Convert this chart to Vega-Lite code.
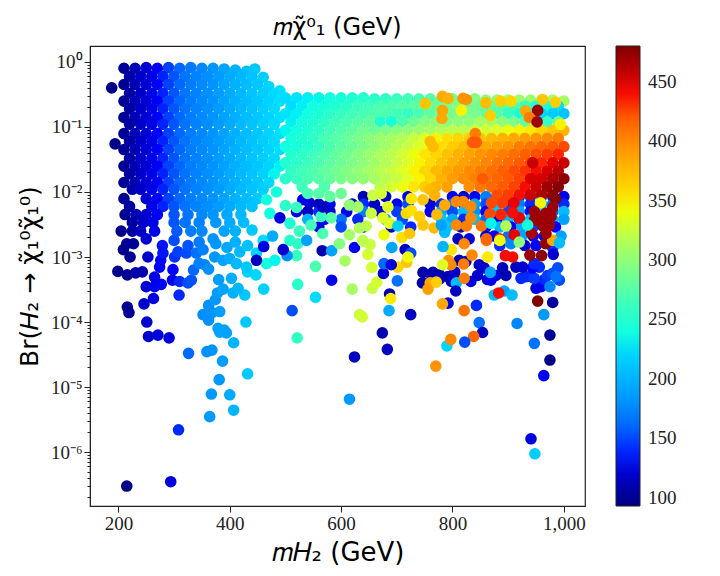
{"$schema":"https://vega.github.io/schema/vega-lite/v6.json","width":495,"height":460,"autosize":"none","padding":{"left":90,"top":46,"right":135,"bottom":70},"background":"white","title":{"text":"𝑚χ̃⁰₁ (GeV)","font":"DejaVu Sans","fontSize":24,"fontWeight":"normal","color":"#000","anchor":"middle","offset":6},"config":{"view":{"stroke":"#222","strokeWidth":1.2}},"data":{"values":[
{"x":640,"y":0.0085,"c":110},{"x":680,"y":0.0085,"c":120},{"x":720,"y":0.0085,"c":130},{"x":800,"y":0.0085,"c":130},{"x":820,"y":0.0085,"c":120},{"x":840,"y":0.0085,"c":130},{"x":860,"y":0.0085,"c":170},{"x":880,"y":0.0085,"c":150},{"x":900,"y":0.0085,"c":180},{"x":920,"y":0.0085,"c":140},{"x":940,"y":0.0085,"c":150},{"x":960,"y":0.0085,"c":170},{"x":980,"y":0.0085,"c":140},{"x":1000,"y":0.0085,"c":130},
{"x":560,"y":0.0065,"c":115},{"x":580,"y":0.0065,"c":135},{"x":620,"y":0.0065,"c":120},{"x":640,"y":0.0065,"c":140},{"x":660,"y":0.0065,"c":115},{"x":700,"y":0.0065,"c":130},{"x":720,"y":0.0065,"c":150},{"x":760,"y":0.0065,"c":120},{"x":780,"y":0.0065,"c":140},{"x":800,"y":0.0065,"c":170},{"x":820,"y":0.0065,"c":130},{"x":840,"y":0.0065,"c":190},{"x":860,"y":0.0065,"c":150},{"x":880,"y":0.0065,"c":200},{"x":900,"y":0.0065,"c":130},{"x":920,"y":0.0065,"c":170},{"x":940,"y":0.0065,"c":140},{"x":960,"y":0.0065,"c":195},{"x":980,"y":0.0065,"c":160},{"x":1000,"y":0.0065,"c":140},
{"x":520,"y":0.005,"c":125},{"x":540,"y":0.005,"c":115},{"x":560,"y":0.005,"c":140},{"x":580,"y":0.005,"c":120},{"x":610,"y":0.005,"c":130},{"x":640,"y":0.005,"c":170},{"x":670,"y":0.005,"c":120},{"x":700,"y":0.005,"c":145},{"x":760,"y":0.005,"c":130},{"x":780,"y":0.005,"c":195},{"x":800,"y":0.005,"c":150},{"x":820,"y":0.005,"c":205},{"x":840,"y":0.005,"c":180},{"x":860,"y":0.005,"c":135},{"x":880,"y":0.005,"c":210},{"x":900,"y":0.005,"c":150},{"x":920,"y":0.005,"c":190},{"x":940,"y":0.005,"c":135},{"x":960,"y":0.005,"c":200},{"x":980,"y":0.005,"c":155},{"x":1000,"y":0.005,"c":205},
{"x":540,"y":0.0038,"c":200},{"x":570,"y":0.0038,"c":135},{"x":600,"y":0.0038,"c":165},{"x":630,"y":0.0038,"c":140},{"x":680,"y":0.0038,"c":190},{"x":710,"y":0.0038,"c":150},{"x":780,"y":0.0038,"c":210},{"x":800,"y":0.0038,"c":195},{"x":820,"y":0.0038,"c":140},{"x":840,"y":0.0038,"c":205},{"x":860,"y":0.0038,"c":160},{"x":880,"y":0.0038,"c":130},{"x":900,"y":0.0038,"c":200},{"x":920,"y":0.0038,"c":145},{"x":940,"y":0.0038,"c":210},{"x":960,"y":0.0038,"c":135},{"x":980,"y":0.0038,"c":200},{"x":1000,"y":0.0038,"c":190},
{"x":560,"y":0.0029,"c":125},{"x":600,"y":0.0029,"c":150},{"x":640,"y":0.0029,"c":135},{"x":690,"y":0.0029,"c":115},{"x":725,"y":0.0029,"c":140},{"x":790,"y":0.0029,"c":210},{"x":815,"y":0.0029,"c":115},{"x":860,"y":0.0029,"c":135},{"x":885,"y":0.0029,"c":200},{"x":905,"y":0.0029,"c":130},{"x":925,"y":0.0029,"c":195},{"x":945,"y":0.0029,"c":145},{"x":985,"y":0.0029,"c":135},
{"x":860,"y":0.0021,"c":120},{"x":875,"y":0.0021,"c":135},{"x":900,"y":0.0021,"c":165},{"x":925,"y":0.0021,"c":190},{"x":945,"y":0.0021,"c":135},{"x":965,"y":0.0021,"c":125},{"x":995,"y":0.0021,"c":190},{"x":810,"y":0.0019,"c":115},{"x":830,"y":0.0019,"c":125},{"x":885,"y":0.0015,"c":140},{"x":905,"y":0.0016,"c":175},{"x":930,"y":0.0015,"c":120},{"x":950,"y":0.0015,"c":135},{"x":980,"y":0.0014,"c":140},

{"x":210,"y":0.8,"c":100},{"x":230,"y":0.8,"c":112},{"x":250,"y":0.82,"c":122},{"x":270,"y":0.8,"c":133},{"x":290,"y":0.82,"c":146},{"x":310,"y":0.8,"c":160},{"x":330,"y":0.82,"c":168},{"x":350,"y":0.8,"c":176},{"x":370,"y":0.8,"c":182},{"x":390,"y":0.78,"c":190},{"x":410,"y":0.75,"c":198},{"x":430,"y":0.72,"c":205},{"x":445,"y":0.78,"c":212},
{"x":220,"y":0.6,"c":105},{"x":240,"y":0.6,"c":118},{"x":260,"y":0.6,"c":128},{"x":280,"y":0.6,"c":139},{"x":300,"y":0.6,"c":153},{"x":320,"y":0.6,"c":166},{"x":340,"y":0.6,"c":173},{"x":360,"y":0.6,"c":179},{"x":380,"y":0.6,"c":186},{"x":400,"y":0.6,"c":194},{"x":420,"y":0.6,"c":202},{"x":440,"y":0.6,"c":209},{"x":460,"y":0.58,"c":216},
{"x":210,"y":0.45,"c":100},{"x":230,"y":0.45,"c":112},{"x":250,"y":0.45,"c":122},{"x":270,"y":0.45,"c":133},{"x":290,"y":0.45,"c":146},{"x":310,"y":0.45,"c":160},{"x":330,"y":0.45,"c":170},{"x":350,"y":0.45,"c":176},{"x":370,"y":0.45,"c":182},{"x":390,"y":0.45,"c":190},{"x":410,"y":0.45,"c":198},{"x":430,"y":0.45,"c":205},{"x":450,"y":0.45,"c":212},{"x":470,"y":0.42,"c":220},{"x":490,"y":0.36,"c":226},
{"x":220,"y":0.33,"c":105},{"x":240,"y":0.33,"c":118},{"x":260,"y":0.33,"c":128},{"x":280,"y":0.33,"c":139},{"x":300,"y":0.33,"c":153},{"x":320,"y":0.33,"c":166},{"x":340,"y":0.33,"c":173},{"x":360,"y":0.33,"c":179},{"x":380,"y":0.33,"c":186},{"x":400,"y":0.33,"c":194},{"x":420,"y":0.33,"c":202},{"x":440,"y":0.33,"c":209},{"x":460,"y":0.33,"c":216},{"x":480,"y":0.32,"c":224},
{"x":210,"y":0.25,"c":100},{"x":230,"y":0.25,"c":112},{"x":250,"y":0.25,"c":122},{"x":270,"y":0.25,"c":133},{"x":290,"y":0.25,"c":146},{"x":310,"y":0.25,"c":160},{"x":330,"y":0.25,"c":170},{"x":350,"y":0.25,"c":176},{"x":370,"y":0.25,"c":182},{"x":390,"y":0.25,"c":190},{"x":410,"y":0.25,"c":198},{"x":430,"y":0.25,"c":205},{"x":450,"y":0.25,"c":212},{"x":470,"y":0.25,"c":220},{"x":490,"y":0.25,"c":226},
{"x":220,"y":0.19,"c":105},{"x":240,"y":0.19,"c":118},{"x":260,"y":0.19,"c":128},{"x":280,"y":0.19,"c":139},{"x":300,"y":0.19,"c":153},{"x":320,"y":0.19,"c":166},{"x":340,"y":0.19,"c":173},{"x":360,"y":0.19,"c":179},{"x":380,"y":0.19,"c":186},{"x":400,"y":0.19,"c":194},{"x":420,"y":0.19,"c":202},{"x":440,"y":0.19,"c":209},{"x":460,"y":0.19,"c":216},{"x":480,"y":0.19,"c":224},
{"x":210,"y":0.14,"c":100},{"x":230,"y":0.14,"c":112},{"x":250,"y":0.14,"c":122},{"x":270,"y":0.14,"c":133},{"x":290,"y":0.14,"c":146},{"x":310,"y":0.14,"c":160},{"x":330,"y":0.14,"c":170},{"x":350,"y":0.14,"c":176},{"x":370,"y":0.14,"c":182},{"x":390,"y":0.14,"c":190},{"x":410,"y":0.14,"c":198},{"x":430,"y":0.14,"c":205},{"x":450,"y":0.14,"c":212},{"x":470,"y":0.14,"c":220},{"x":490,"y":0.14,"c":226},
{"x":220,"y":0.11,"c":105},{"x":240,"y":0.11,"c":118},{"x":260,"y":0.11,"c":128},{"x":280,"y":0.11,"c":139},{"x":300,"y":0.11,"c":153},{"x":320,"y":0.11,"c":166},{"x":340,"y":0.11,"c":173},{"x":360,"y":0.11,"c":179},{"x":380,"y":0.11,"c":186},{"x":400,"y":0.11,"c":194},{"x":420,"y":0.11,"c":202},{"x":440,"y":0.11,"c":209},{"x":460,"y":0.11,"c":216},{"x":480,"y":0.11,"c":224},
{"x":210,"y":0.079,"c":100},{"x":230,"y":0.079,"c":112},{"x":250,"y":0.079,"c":122},{"x":270,"y":0.079,"c":133},{"x":290,"y":0.079,"c":146},{"x":310,"y":0.079,"c":160},{"x":330,"y":0.079,"c":170},{"x":350,"y":0.079,"c":176},{"x":370,"y":0.079,"c":182},{"x":390,"y":0.079,"c":190},{"x":410,"y":0.079,"c":198},{"x":430,"y":0.079,"c":205},{"x":450,"y":0.079,"c":212},{"x":470,"y":0.079,"c":220},{"x":490,"y":0.079,"c":226},
{"x":220,"y":0.06,"c":105},{"x":240,"y":0.06,"c":118},{"x":260,"y":0.06,"c":128},{"x":280,"y":0.06,"c":139},{"x":300,"y":0.06,"c":153},{"x":320,"y":0.06,"c":166},{"x":340,"y":0.06,"c":173},{"x":360,"y":0.06,"c":179},{"x":380,"y":0.06,"c":186},{"x":400,"y":0.06,"c":194},{"x":420,"y":0.06,"c":202},{"x":440,"y":0.06,"c":209},{"x":460,"y":0.06,"c":216},{"x":480,"y":0.06,"c":224},
{"x":210,"y":0.045,"c":100},{"x":230,"y":0.045,"c":112},{"x":250,"y":0.045,"c":122},{"x":270,"y":0.045,"c":133},{"x":290,"y":0.045,"c":146},{"x":310,"y":0.045,"c":160},{"x":330,"y":0.045,"c":170},{"x":350,"y":0.045,"c":176},{"x":370,"y":0.045,"c":182},{"x":390,"y":0.045,"c":190},{"x":410,"y":0.045,"c":198},{"x":430,"y":0.045,"c":205},{"x":450,"y":0.045,"c":212},{"x":470,"y":0.045,"c":220},{"x":490,"y":0.045,"c":226},
{"x":220,"y":0.033,"c":105},{"x":240,"y":0.033,"c":118},{"x":260,"y":0.033,"c":128},{"x":280,"y":0.033,"c":139},{"x":300,"y":0.033,"c":153},{"x":320,"y":0.033,"c":166},{"x":340,"y":0.033,"c":173},{"x":360,"y":0.033,"c":179},{"x":380,"y":0.033,"c":186},{"x":400,"y":0.033,"c":194},{"x":420,"y":0.033,"c":202},{"x":440,"y":0.033,"c":209},{"x":460,"y":0.033,"c":216},{"x":480,"y":0.033,"c":224},
{"x":210,"y":0.025,"c":100},{"x":230,"y":0.025,"c":112},{"x":250,"y":0.025,"c":122},{"x":270,"y":0.025,"c":133},{"x":290,"y":0.025,"c":146},{"x":310,"y":0.025,"c":160},{"x":330,"y":0.025,"c":170},{"x":350,"y":0.025,"c":176},{"x":370,"y":0.025,"c":182},{"x":390,"y":0.025,"c":190},{"x":410,"y":0.025,"c":198},{"x":430,"y":0.025,"c":205},{"x":450,"y":0.025,"c":212},{"x":470,"y":0.025,"c":220},{"x":490,"y":0.025,"c":232},
{"x":220,"y":0.019,"c":105},{"x":240,"y":0.019,"c":118},{"x":260,"y":0.019,"c":128},{"x":280,"y":0.019,"c":139},{"x":300,"y":0.019,"c":153},{"x":320,"y":0.019,"c":166},{"x":340,"y":0.019,"c":173},{"x":360,"y":0.019,"c":179},{"x":380,"y":0.019,"c":186},{"x":400,"y":0.019,"c":194},{"x":420,"y":0.019,"c":202},{"x":440,"y":0.019,"c":209},{"x":460,"y":0.019,"c":218},{"x":480,"y":0.019,"c":235},
{"x":210,"y":0.014,"c":100},{"x":230,"y":0.014,"c":112},{"x":250,"y":0.014,"c":122},{"x":270,"y":0.014,"c":133},{"x":290,"y":0.014,"c":146},{"x":310,"y":0.014,"c":160},{"x":330,"y":0.014,"c":170},{"x":350,"y":0.014,"c":176},{"x":370,"y":0.014,"c":182},{"x":390,"y":0.014,"c":190},{"x":410,"y":0.014,"c":198},{"x":430,"y":0.014,"c":205},{"x":450,"y":0.014,"c":212},{"x":470,"y":0.014,"c":222},
{"x":225,"y":0.011,"c":107},{"x":240,"y":0.011,"c":118},{"x":260,"y":0.011,"c":128},{"x":280,"y":0.011,"c":139},{"x":300,"y":0.011,"c":153},{"x":320,"y":0.011,"c":166},{"x":340,"y":0.011,"c":173},{"x":360,"y":0.011,"c":179},{"x":380,"y":0.011,"c":186},{"x":400,"y":0.011,"c":194},{"x":420,"y":0.011,"c":202},{"x":440,"y":0.011,"c":209},{"x":460,"y":0.011,"c":216},
{"x":210,"y":0.0079,"c":100},{"x":250,"y":0.0079,"c":122},{"x":270,"y":0.0079,"c":133},{"x":290,"y":0.0079,"c":146},{"x":310,"y":0.0079,"c":160},{"x":330,"y":0.0079,"c":170},{"x":350,"y":0.0079,"c":176},{"x":370,"y":0.0079,"c":182},{"x":390,"y":0.0079,"c":190},{"x":410,"y":0.0079,"c":198},{"x":430,"y":0.0079,"c":205},{"x":450,"y":0.0079,"c":212},
{"x":220,"y":0.006,"c":105},{"x":260,"y":0.006,"c":128},{"x":280,"y":0.006,"c":139},{"x":300,"y":0.006,"c":153},{"x":320,"y":0.006,"c":166},{"x":340,"y":0.006,"c":173},{"x":360,"y":0.006,"c":179},{"x":380,"y":0.006,"c":186},{"x":400,"y":0.006,"c":194},{"x":420,"y":0.006,"c":202},{"x":440,"y":0.006,"c":209},
{"x":212,"y":0.0045,"c":100},{"x":232,"y":0.0045,"c":112},{"x":250,"y":0.0045,"c":122},{"x":270,"y":0.0045,"c":133},{"x":300,"y":0.0045,"c":153},{"x":325,"y":0.0045,"c":166},{"x":350,"y":0.0045,"c":176},{"x":370,"y":0.0045,"c":182},{"x":395,"y":0.0045,"c":192},{"x":420,"y":0.0045,"c":202},
{"x":225,"y":0.0034,"c":105},{"x":245,"y":0.0034,"c":118},{"x":262,"y":0.0034,"c":128},{"x":300,"y":0.0034,"c":153},{"x":320,"y":0.0034,"c":166},{"x":345,"y":0.0034,"c":173},{"x":375,"y":0.0034,"c":184},{"x":400,"y":0.0034,"c":194},{"x":425,"y":0.0034,"c":204},
{"x":205,"y":0.0025,"c":97},{"x":225,"y":0.0025,"c":105},{"x":240,"y":0.0025,"c":116},{"x":265,"y":0.0025,"c":130},{"x":305,"y":0.0025,"c":155},{"x":330,"y":0.0025,"c":170},{"x":350,"y":0.0025,"c":176},{"x":390,"y":0.0025,"c":190},{"x":410,"y":0.0025,"c":198},{"x":440,"y":0.0026,"c":212},
{"x":500,"y":0.28,"c":225},{"x":520,"y":0.28,"c":228},{"x":540,"y":0.28,"c":232},{"x":560,"y":0.28,"c":235},{"x":580,"y":0.28,"c":240},{"x":600,"y":0.28,"c":245},{"x":620,"y":0.28,"c":250},{"x":640,"y":0.28,"c":252},{"x":660,"y":0.27,"c":255},{"x":680,"y":0.27,"c":258},{"x":700,"y":0.27,"c":262},{"x":720,"y":0.27,"c":265},{"x":740,"y":0.27,"c":270},{"x":760,"y":0.27,"c":275},{"x":780,"y":0.27,"c":280},{"x":800,"y":0.27,"c":285},{"x":820,"y":0.27,"c":290},{"x":840,"y":0.27,"c":295},{"x":860,"y":0.26,"c":300},{"x":880,"y":0.26,"c":300},{"x":900,"y":0.26,"c":305},{"x":920,"y":0.26,"c":305},{"x":940,"y":0.26,"c":305},{"x":960,"y":0.26,"c":310},{"x":980,"y":0.26,"c":310},{"x":1000,"y":0.25,"c":310},
{"x":510,"y":0.21,"c":225},{"x":530,"y":0.21,"c":232},{"x":550,"y":0.21,"c":238},{"x":570,"y":0.21,"c":245},{"x":590,"y":0.21,"c":250},{"x":610,"y":0.21,"c":255},{"x":630,"y":0.21,"c":262},{"x":650,"y":0.21,"c":265},{"x":670,"y":0.21,"c":270},{"x":690,"y":0.21,"c":272},{"x":710,"y":0.21,"c":275},{"x":730,"y":0.21,"c":278},{"x":750,"y":0.21,"c":282},{"x":770,"y":0.21,"c":285},{"x":790,"y":0.21,"c":290},{"x":810,"y":0.21,"c":295},{"x":830,"y":0.21,"c":290},{"x":850,"y":0.21,"c":285},{"x":870,"y":0.21,"c":280},{"x":890,"y":0.21,"c":275},{"x":910,"y":0.21,"c":270},{"x":930,"y":0.21,"c":260},{"x":950,"y":0.21,"c":250},{"x":970,"y":0.21,"c":240},{"x":990,"y":0.21,"c":225},
{"x":500,"y":0.16,"c":228},{"x":520,"y":0.16,"c":232},{"x":540,"y":0.16,"c":240},{"x":560,"y":0.16,"c":248},{"x":580,"y":0.16,"c":255},{"x":600,"y":0.16,"c":260},{"x":620,"y":0.16,"c":265},{"x":640,"y":0.16,"c":268},{"x":660,"y":0.16,"c":272},{"x":680,"y":0.16,"c":270},{"x":700,"y":0.16,"c":265},{"x":720,"y":0.16,"c":260},{"x":740,"y":0.16,"c":270},{"x":760,"y":0.16,"c":280},{"x":780,"y":0.16,"c":285},{"x":800,"y":0.16,"c":290},{"x":820,"y":0.16,"c":290},{"x":840,"y":0.16,"c":290},{"x":860,"y":0.16,"c":280},{"x":880,"y":0.16,"c":275},{"x":900,"y":0.16,"c":260},{"x":920,"y":0.16,"c":245},{"x":940,"y":0.16,"c":230},{"x":960,"y":0.16,"c":220},{"x":980,"y":0.16,"c":215},{"x":1000,"y":0.16,"c":210},
{"x":510,"y":0.12,"c":232},{"x":530,"y":0.12,"c":240},{"x":550,"y":0.12,"c":250},{"x":570,"y":0.12,"c":258},{"x":590,"y":0.12,"c":265},{"x":610,"y":0.12,"c":270},{"x":630,"y":0.12,"c":275},{"x":650,"y":0.12,"c":280},{"x":670,"y":0.12,"c":250},{"x":690,"y":0.12,"c":245},{"x":710,"y":0.12,"c":270},{"x":730,"y":0.12,"c":285},{"x":750,"y":0.12,"c":295},{"x":770,"y":0.12,"c":300},{"x":790,"y":0.12,"c":295},{"x":810,"y":0.12,"c":300},{"x":830,"y":0.12,"c":300},{"x":850,"y":0.12,"c":310},{"x":870,"y":0.12,"c":310},{"x":890,"y":0.12,"c":300},{"x":910,"y":0.12,"c":290},{"x":930,"y":0.12,"c":280},{"x":950,"y":0.12,"c":270},{"x":970,"y":0.12,"c":260},{"x":990,"y":0.12,"c":280},
{"x":500,"y":0.089,"c":235},{"x":520,"y":0.089,"c":240},{"x":540,"y":0.089,"c":250},{"x":560,"y":0.089,"c":258},{"x":580,"y":0.089,"c":266},{"x":600,"y":0.089,"c":272},{"x":620,"y":0.089,"c":280},{"x":640,"y":0.089,"c":288},{"x":660,"y":0.089,"c":285},{"x":680,"y":0.089,"c":290},{"x":700,"y":0.089,"c":295},{"x":720,"y":0.089,"c":300},{"x":740,"y":0.089,"c":305},{"x":760,"y":0.089,"c":310},{"x":780,"y":0.089,"c":315},{"x":800,"y":0.089,"c":320},{"x":820,"y":0.089,"c":320},{"x":840,"y":0.089,"c":325},{"x":860,"y":0.089,"c":330},{"x":880,"y":0.089,"c":335},{"x":900,"y":0.089,"c":340},{"x":920,"y":0.089,"c":345},{"x":940,"y":0.089,"c":350},{"x":960,"y":0.089,"c":360},{"x":980,"y":0.089,"c":370},{"x":1000,"y":0.089,"c":380},
{"x":510,"y":0.067,"c":240},{"x":530,"y":0.067,"c":250},{"x":550,"y":0.067,"c":258},{"x":570,"y":0.067,"c":268},{"x":590,"y":0.067,"c":275},{"x":610,"y":0.067,"c":282},{"x":630,"y":0.067,"c":290},{"x":650,"y":0.067,"c":298},{"x":670,"y":0.067,"c":305},{"x":690,"y":0.067,"c":310},{"x":710,"y":0.067,"c":315},{"x":730,"y":0.067,"c":325},{"x":750,"y":0.067,"c":335},{"x":770,"y":0.067,"c":345},{"x":790,"y":0.067,"c":355},{"x":810,"y":0.067,"c":360},{"x":830,"y":0.067,"c":365},{"x":850,"y":0.067,"c":370},{"x":870,"y":0.067,"c":375},{"x":890,"y":0.067,"c":380},{"x":910,"y":0.067,"c":385},{"x":930,"y":0.067,"c":390},{"x":950,"y":0.067,"c":395},{"x":970,"y":0.067,"c":400},{"x":990,"y":0.067,"c":405},
{"x":500,"y":0.05,"c":240},{"x":520,"y":0.05,"c":245},{"x":540,"y":0.05,"c":252},{"x":560,"y":0.05,"c":260},{"x":580,"y":0.05,"c":270},{"x":600,"y":0.05,"c":278},{"x":620,"y":0.05,"c":285},{"x":640,"y":0.05,"c":292},{"x":660,"y":0.05,"c":300},{"x":680,"y":0.05,"c":308},{"x":700,"y":0.05,"c":316},{"x":720,"y":0.05,"c":325},{"x":740,"y":0.05,"c":335},{"x":760,"y":0.05,"c":345},{"x":780,"y":0.05,"c":355},{"x":800,"y":0.05,"c":365},{"x":820,"y":0.05,"c":375},{"x":840,"y":0.05,"c":380},{"x":860,"y":0.05,"c":385},{"x":880,"y":0.05,"c":390},{"x":900,"y":0.05,"c":395},{"x":920,"y":0.05,"c":405},{"x":940,"y":0.05,"c":410},{"x":960,"y":0.05,"c":415},{"x":980,"y":0.05,"c":420},{"x":1000,"y":0.05,"c":425},
{"x":510,"y":0.038,"c":250},{"x":530,"y":0.038,"c":256},{"x":550,"y":0.038,"c":264},{"x":570,"y":0.038,"c":272},{"x":590,"y":0.038,"c":280},{"x":610,"y":0.038,"c":288},{"x":630,"y":0.038,"c":296},{"x":650,"y":0.038,"c":305},{"x":670,"y":0.038,"c":312},{"x":690,"y":0.038,"c":320},{"x":710,"y":0.038,"c":330},{"x":730,"y":0.038,"c":340},{"x":750,"y":0.038,"c":352},{"x":770,"y":0.038,"c":362},{"x":790,"y":0.038,"c":372},{"x":810,"y":0.038,"c":380},{"x":830,"y":0.038,"c":388},{"x":850,"y":0.038,"c":395},{"x":870,"y":0.038,"c":400},{"x":890,"y":0.038,"c":405},{"x":910,"y":0.038,"c":412},{"x":930,"y":0.038,"c":418},{"x":950,"y":0.038,"c":424},{"x":970,"y":0.038,"c":430},{"x":990,"y":0.038,"c":435},
{"x":500,"y":0.028,"c":250},{"x":520,"y":0.028,"c":256},{"x":540,"y":0.028,"c":262},{"x":560,"y":0.028,"c":270},{"x":580,"y":0.028,"c":278},{"x":600,"y":0.028,"c":285},{"x":620,"y":0.028,"c":292},{"x":640,"y":0.028,"c":300},{"x":660,"y":0.028,"c":308},{"x":680,"y":0.028,"c":316},{"x":700,"y":0.028,"c":325},{"x":720,"y":0.028,"c":335},{"x":740,"y":0.028,"c":345},{"x":760,"y":0.028,"c":358},{"x":780,"y":0.028,"c":370},{"x":800,"y":0.028,"c":380},{"x":820,"y":0.028,"c":388},{"x":840,"y":0.028,"c":395},{"x":860,"y":0.028,"c":402},{"x":880,"y":0.028,"c":408},{"x":900,"y":0.028,"c":414},{"x":920,"y":0.028,"c":420},{"x":940,"y":0.028,"c":428},{"x":960,"y":0.028,"c":435},{"x":980,"y":0.028,"c":445},{"x":1000,"y":0.028,"c":455},
{"x":510,"y":0.021,"c":258},{"x":530,"y":0.021,"c":265},{"x":550,"y":0.021,"c":272},{"x":570,"y":0.021,"c":280},{"x":590,"y":0.021,"c":288},{"x":610,"y":0.021,"c":295},{"x":630,"y":0.021,"c":302},{"x":650,"y":0.021,"c":310},{"x":670,"y":0.021,"c":318},{"x":690,"y":0.021,"c":326},{"x":710,"y":0.021,"c":335},{"x":730,"y":0.021,"c":345},{"x":750,"y":0.021,"c":360},{"x":770,"y":0.021,"c":375},{"x":790,"y":0.021,"c":385},{"x":810,"y":0.021,"c":392},{"x":830,"y":0.021,"c":400},{"x":850,"y":0.021,"c":406},{"x":870,"y":0.021,"c":412},{"x":890,"y":0.021,"c":418},{"x":910,"y":0.021,"c":425},{"x":930,"y":0.021,"c":432},{"x":950,"y":0.021,"c":440},{"x":970,"y":0.021,"c":450},{"x":990,"y":0.021,"c":460},
{"x":500,"y":0.016,"c":255},{"x":520,"y":0.016,"c":262},{"x":540,"y":0.016,"c":268},{"x":560,"y":0.016,"c":275},{"x":580,"y":0.016,"c":282},{"x":600,"y":0.016,"c":290},{"x":620,"y":0.016,"c":296},{"x":640,"y":0.016,"c":302},{"x":660,"y":0.016,"c":310},{"x":680,"y":0.016,"c":318},{"x":700,"y":0.016,"c":325},{"x":720,"y":0.016,"c":335},{"x":740,"y":0.016,"c":345},{"x":760,"y":0.016,"c":360},{"x":780,"y":0.016,"c":380},{"x":800,"y":0.016,"c":390},{"x":820,"y":0.016,"c":398},{"x":840,"y":0.016,"c":404},{"x":860,"y":0.016,"c":410},{"x":880,"y":0.016,"c":416},{"x":900,"y":0.016,"c":420},{"x":920,"y":0.016,"c":428},{"x":940,"y":0.016,"c":440},{"x":960,"y":0.016,"c":452},{"x":980,"y":0.016,"c":465},{"x":1000,"y":0.016,"c":475},
{"x":530,"y":0.012,"c":265},{"x":570,"y":0.012,"c":272},{"x":670,"y":0.012,"c":320},{"x":690,"y":0.012,"c":330},{"x":710,"y":0.012,"c":340},{"x":730,"y":0.012,"c":352},{"x":750,"y":0.012,"c":365},{"x":770,"y":0.012,"c":380},{"x":790,"y":0.012,"c":388},{"x":830,"y":0.012,"c":398},{"x":850,"y":0.012,"c":408},{"x":870,"y":0.012,"c":414},{"x":890,"y":0.012,"c":420},{"x":910,"y":0.012,"c":428},{"x":930,"y":0.012,"c":440},{"x":950,"y":0.012,"c":455},{"x":970,"y":0.012,"c":470},{"x":990,"y":0.012,"c":478},
{"x":880,"y":0.009,"c":425},{"x":900,"y":0.009,"c":430},{"x":920,"y":0.009,"c":440},{"x":940,"y":0.009,"c":455},{"x":960,"y":0.009,"c":465},{"x":980,"y":0.009,"c":475},{"x":870,"y":0.0068,"c":425},{"x":890,"y":0.0068,"c":430},{"x":910,"y":0.0068,"c":445},

{"x":188,"y":0.4,"c":95},{"x":194,"y":0.055,"c":96},
{"x":215,"y":3e-7,"c":95},{"x":294,"y":3.5e-7,"c":125},{"x":308,"y":2.2e-6,"c":140},{"x":364,"y":3.5e-6,"c":185},{"x":407,"y":4.4e-6,"c":200},{"x":367,"y":7.8e-6,"c":185},{"x":400,"y":7.6e-6,"c":195},{"x":381,"y":1.3e-5,"c":185},{"x":432,"y":1.6e-5,"c":212},{"x":387,"y":2.5e-5,"c":187},{"x":326,"y":3.3e-5,"c":160},{"x":359,"y":3.5e-5,"c":180},{"x":368,"y":3.7e-5,"c":182},{"x":407,"y":4.8e-5,"c":200},{"x":291,"y":5.7e-5,"c":125},{"x":271,"y":6.3e-5,"c":125},{"x":254,"y":6e-5,"c":120},{"x":251,"y":1e-4,"c":120},{"x":219,"y":1.4e-4,"c":100},{"x":216,"y":1.7e-4,"c":100},{"x":246,"y":1.9e-4,"c":120},{"x":263,"y":2.3e-4,"c":125},{"x":309,"y":2.6e-4,"c":140},
{"x":352,"y":1.3e-4,"c":178},{"x":362,"y":1.07e-4,"c":180},{"x":368,"y":1.4e-4,"c":182},{"x":382,"y":1.45e-4,"c":187},{"x":362,"y":1.8e-4,"c":180},{"x":374,"y":2.2e-4,"c":184},{"x":378,"y":2.8e-4,"c":186},{"x":379,"y":8e-5,"c":190},{"x":382,"y":7e-5,"c":190},{"x":390,"y":7.5e-5,"c":190},{"x":394,"y":6.8e-5,"c":190},{"x":429,"y":1e-4,"c":212},{"x":427,"y":2.6e-4,"c":212},{"x":461,"y":3.2e-4,"c":218},{"x":406,"y":2.8e-4,"c":198},{"x":415,"y":3.3e-4,"c":202},{"x":388,"y":3.2e-4,"c":190},{"x":403,"y":4.7e-4,"c":196},{"x":380,"y":4.5e-4,"c":186},
{"x":512,"y":1.5e-4,"c":150},{"x":521,"y":5.7e-5,"c":260},{"x":554,"y":2.4e-4,"c":225},{"x":522,"y":3.8e-4,"c":255},{"x":583,"y":4.4e-4,"c":130},{"x":554,"y":7.2e-4,"c":270},{"x":520,"y":1.05e-3,"c":262},{"x":566,"y":1.25e-3,"c":110},{"x":583,"y":1.25e-3,"c":190},{"x":503,"y":1.05e-3,"c":180},{"x":447,"y":5.3e-4,"c":222},{"x":432,"y":5.9e-4,"c":218},
{"x":297,"y":4.4e-4,"c":130},{"x":310,"y":4.2e-4,"c":140},{"x":325,"y":4e-4,"c":150},{"x":331,"y":4.4e-4,"c":152},{"x":250,"y":3.5e-4,"c":122},{"x":265,"y":3.5e-4,"c":130},{"x":277,"y":3.8e-4,"c":135},{"x":265,"y":4.9e-4,"c":128},{"x":199,"y":6e-4,"c":97},{"x":216,"y":5.3e-4,"c":100},{"x":231,"y":5.7e-4,"c":108},{"x":243,"y":5.9e-4,"c":110},{"x":298,"y":6.4e-4,"c":135},{"x":335,"y":6.3e-4,"c":160},{"x":274,"y":7e-4,"c":135},{"x":276,"y":8.9e-4,"c":135},{"x":280,"y":1.15e-3,"c":137},{"x":279,"y":1.5e-3,"c":137},{"x":253,"y":1e-3,"c":120},{"x":221,"y":1e-3,"c":100},{"x":209,"y":1.3e-3,"c":97},{"x":215,"y":1.6e-3,"c":100},{"x":227,"y":1.6e-3,"c":102},
{"x":301,"y":1e-3,"c":142},{"x":307,"y":1.2e-3,"c":145},{"x":322,"y":1.15e-3,"c":150},{"x":340,"y":1.15e-3,"c":165},{"x":352,"y":1.3e-3,"c":172},{"x":355,"y":7.6e-4,"c":175},{"x":373,"y":1e-3,"c":183},{"x":388,"y":8.9e-4,"c":190},{"x":400,"y":9.5e-4,"c":195},{"x":412,"y":7.9e-4,"c":203},{"x":430,"y":7e-4,"c":212},{"x":448,"y":1.15e-3,"c":220},{"x":362,"y":6.5e-4,"c":180},{"x":345,"y":8e-4,"c":172},{"x":325,"y":1.5e-3,"c":152},{"x":345,"y":1.7e-3,"c":170},{"x":375,"y":1.6e-3,"c":184},{"x":395,"y":1.4e-3,"c":192},{"x":418,"y":1.2e-3,"c":202},{"x":300,"y":1.8e-3,"c":150},{"x":250,"y":1.9e-3,"c":120},{"x":370,"y":1.9e-3,"c":182},{"x":410,"y":1.7e-3,"c":198},{"x":432,"y":1.5e-3,"c":208},
{"x":615,"y":6.5e-6,"c":185},{"x":941,"y":1.6e-6,"c":125},{"x":948,"y":9.4e-7,"c":215},{"x":770,"y":2.1e-5,"c":395},{"x":624,"y":2.9e-5,"c":115},{"x":683,"y":3.8e-5,"c":115},{"x":674,"y":6.8e-5,"c":110},{"x":725,"y":1.3e-4,"c":115},{"x":686,"y":1.5e-4,"c":195},{"x":633,"y":1.3e-4,"c":325},{"x":638,"y":1.2e-4,"c":330},{"x":620,"y":3.2e-4,"c":310},{"x":656,"y":3.3e-4,"c":325},{"x":664,"y":4.1e-4,"c":330},{"x":687,"y":2.7e-4,"c":110},{"x":689,"y":2.3e-4,"c":350},{"x":701,"y":4.3e-4,"c":165},{"x":676,"y":5.6e-4,"c":120},{"x":702,"y":7e-4,"c":360},{"x":718,"y":8.3e-4,"c":370},{"x":677,"y":7.9e-4,"c":160},{"x":690,"y":7.6e-4,"c":125},{"x":655,"y":6.9e-4,"c":330},{"x":607,"y":8.7e-4,"c":310},{"x":624,"y":1.4e-3,"c":135},{"x":648,"y":1.1e-3,"c":330},{"x":691,"y":1.4e-3,"c":190},{"x":715,"y":1.3e-3,"c":115},{"x":725,"y":1.15e-3,"c":150},{"x":720,"y":1e-3,"c":340},{"x":652,"y":1.55e-3,"c":325},{"x":639,"y":1.75e-3,"c":320},
{"x":747,"y":5.8e-4,"c":108},{"x":765,"y":5.8e-4,"c":110},{"x":777,"y":5.3e-4,"c":110},{"x":746,"y":4e-4,"c":105},{"x":762,"y":4.4e-4,"c":110},{"x":777,"y":4.6e-4,"c":115},{"x":792,"y":5e-4,"c":110},{"x":804,"y":5.9e-4,"c":120},{"x":798,"y":4.2e-4,"c":115},{"x":807,"y":4.7e-4,"c":115},{"x":833,"y":4.2e-4,"c":125},{"x":824,"y":8.5e-4,"c":115},{"x":812,"y":8.9e-4,"c":110},{"x":848,"y":7.6e-4,"c":115},{"x":857,"y":6.8e-4,"c":120},{"x":845,"y":5.2e-4,"c":120},{"x":863,"y":4.5e-4,"c":125},{"x":869,"y":4.4e-4,"c":130},{"x":878,"y":5.2e-4,"c":125},{"x":890,"y":6.8e-4,"c":115},{"x":896,"y":5.2e-4,"c":110},
{"x":760,"y":4e-4,"c":385},{"x":756,"y":3.2e-4,"c":390},{"x":771,"y":4.1e-4,"c":365},{"x":807,"y":4e-4,"c":205},{"x":821,"y":4.7e-4,"c":405},{"x":806,"y":3e-4,"c":115},{"x":792,"y":1.95e-4,"c":125},{"x":782,"y":1.9e-4,"c":385},{"x":821,"y":1.5e-4,"c":410},{"x":843,"y":1.8e-4,"c":140},{"x":848,"y":9.8e-5,"c":165},{"x":854,"y":6.9e-5,"c":115},{"x":838,"y":6e-5,"c":415},{"x":822,"y":4.9e-5,"c":150},{"x":790,"y":4.3e-5,"c":220},{"x":797,"y":5.4e-5,"c":400},
{"x":875,"y":2.6e-4,"c":205},{"x":893,"y":3e-4,"c":190},{"x":907,"y":2.6e-4,"c":205},{"x":883,"y":2.8e-4,"c":440},{"x":916,"y":9.5e-5,"c":175},{"x":947,"y":4.7e-5,"c":165},{"x":964,"y":1.3e-4,"c":185},{"x":953,"y":2.1e-4,"c":480},{"x":980,"y":2e-4,"c":105},{"x":975,"y":6.3e-5,"c":100},{"x":975,"y":2.6e-5,"c":95},{"x":964,"y":1.5e-5,"c":135},
{"x":950,"y":3.3e-4,"c":125},{"x":959,"y":3.5e-4,"c":130},{"x":965,"y":4.5e-4,"c":140},{"x":971,"y":5.2e-4,"c":145},{"x":980,"y":5.6e-4,"c":150},{"x":989,"y":6.8e-4,"c":150},{"x":992,"y":4.4e-4,"c":150},{"x":986,"y":5e-4,"c":165},{"x":975,"y":3.5e-4,"c":175},{"x":941,"y":5e-4,"c":140},{"x":923,"y":4.7e-4,"c":140},{"x":932,"y":5e-4,"c":140},{"x":947,"y":4.7e-4,"c":145},{"x":956,"y":7e-4,"c":140},{"x":944,"y":6.8e-4,"c":135},{"x":947,"y":7.9e-4,"c":140},{"x":914,"y":7e-4,"c":115},{"x":926,"y":7e-4,"c":120},{"x":868,"y":5.8e-4,"c":190},
{"x":863,"y":1e-3,"c":350},{"x":895,"y":1.05e-3,"c":440},{"x":908,"y":1e-3,"c":440},{"x":939,"y":1.07e-3,"c":470},{"x":960,"y":1.05e-3,"c":475},{"x":835,"y":1.07e-3,"c":400},{"x":820,"y":7.8e-4,"c":405},{"x":793,"y":8.9e-4,"c":395},{"x":797,"y":7.6e-4,"c":400},{"x":798,"y":1.3e-3,"c":350},{"x":782,"y":7.6e-4,"c":335},{"x":783,"y":1.45e-3,"c":200},{"x":821,"y":1.6e-3,"c":400},{"x":861,"y":1.8e-3,"c":410},{"x":885,"y":1.8e-3,"c":435},{"x":967,"y":1.6e-3,"c":475},{"x":980,"y":1.8e-3,"c":385},{"x":992,"y":1.65e-3,"c":205},{"x":981,"y":1.1e-3,"c":120},
{"x":782,"y":0.295,"c":385},{"x":792,"y":0.275,"c":380},{"x":819,"y":0.275,"c":395},{"x":825,"y":0.265,"c":395},{"x":860,"y":0.235,"c":375},{"x":886,"y":0.25,"c":365},{"x":905,"y":0.25,"c":360},{"x":962,"y":0.265,"c":370},{"x":985,"y":0.24,"c":365},{"x":751,"y":0.23,"c":370},{"x":782,"y":0.18,"c":385},{"x":781,"y":0.135,"c":385},{"x":816,"y":0.18,"c":345},{"x":868,"y":0.15,"c":365},{"x":953,"y":0.18,"c":470},{"x":931,"y":0.178,"c":385},{"x":938,"y":0.14,"c":405},{"x":952,"y":0.12,"c":470},{"x":994,"y":0.11,"c":345},{"x":841,"y":0.079,"c":405},{"x":843,"y":0.058,"c":420},{"x":836,"y":0.058,"c":420},{"x":760,"y":0.06,"c":375},{"x":765,"y":0.05,"c":375},{"x":944,"y":0.028,"c":455},{"x":854,"y":0.016,"c":420},{"x":941,"y":0.016,"c":450},{"x":985,"y":0.0079,"c":478},{"x":958,"y":0.0068,"c":345},
{"x":980,"y":0.0058,"c":470},{"x":947,"y":0.005,"c":470},{"x":956,"y":0.0042,"c":470},{"x":968,"y":0.0047,"c":470},{"x":947,"y":0.0037,"c":470},{"x":965,"y":0.004,"c":470},{"x":977,"y":0.0042,"c":470},{"x":962,"y":0.003,"c":470},{"x":974,"y":0.0031,"c":470},{"x":968,"y":0.0023,"c":470},{"x":942,"y":0.0023,"c":465},
{"x":920,"y":0.004,"c":445},{"x":887,"y":0.0045,"c":435},{"x":867,"y":0.0046,"c":425},{"x":908,"y":0.0048,"c":440},{"x":911,"y":0.0022,"c":445},{"x":885,"y":0.0019,"c":435},{"x":861,"y":0.0019,"c":415},{"x":833,"y":0.006,"c":400},{"x":819,"y":0.0071,"c":400},{"x":807,"y":0.0071,"c":400},{"x":786,"y":0.0063,"c":385},{"x":772,"y":0.0045,"c":375},{"x":767,"y":0.0028,"c":375},{"x":747,"y":0.0031,"c":370},{"x":807,"y":0.0031,"c":400},{"x":825,"y":0.003,"c":405},{"x":833,"y":0.004,"c":400},{"x":852,"y":0.003,"c":410},
{"x":717,"y":0.0047,"c":360},{"x":726,"y":0.0052,"c":355},{"x":741,"y":0.0042,"c":365},{"x":747,"y":0.0076,"c":370},{"x":759,"y":0.011,"c":375},{"x":768,"y":0.0089,"c":380},{"x":726,"y":0.0079,"c":352},
{"x":657,"y":0.0089,"c":325},{"x":672,"y":0.0095,"c":330},{"x":684,"y":0.0059,"c":335},{"x":654,"y":0.0047,"c":325},{"x":675,"y":0.004,"c":335},{"x":687,"y":0.0033,"c":335},{"x":630,"y":0.0059,"c":310},{"x":615,"y":0.0063,"c":300},{"x":600,"y":0.0095,"c":285},{"x":645,"y":0.003,"c":320},{"x":633,"y":0.0028,"c":315},{"x":615,"y":0.0022,"c":310},{"x":639,"y":0.0018,"c":320},{"x":677,"y":0.0022,"c":340},{"x":709,"y":0.002,"c":355},{"x":723,"y":0.0023,"c":370},{"x":702,"y":0.003,"c":215},
{"x":869,"y":0.0033,"c":235},{"x":896,"y":0.003,"c":315},{"x":935,"y":0.0031,"c":240},{"x":920,"y":0.0017,"c":300},{"x":885,"y":0.0018,"c":340},{"x":786,"y":0.0024,"c":205},{"x":780,"y":0.0031,"c":190},
{"x":484,"y":0.01,"c":245},{"x":466,"y":0.0076,"c":240},{"x":472,"y":0.0047,"c":238},{"x":508,"y":0.0033,"c":250},{"x":525,"y":0.0025,"c":262},{"x":508,"y":0.0018,"c":255},{"x":522,"y":0.0016,"c":258},{"x":546,"y":0.0031,"c":265},{"x":567,"y":0.0023,"c":270},{"x":564,"y":0.0042,"c":262},{"x":582,"y":0.004,"c":275},{"x":597,"y":0.0016,"c":295},{"x":460,"y":0.0018,"c":225},{"x":477,"y":0.0021,"c":195},{"x":466,"y":7.9e-4,"c":240},{"x":481,"y":8.9e-4,"c":235},{"x":538,"y":0.0018,"c":190},{"x":496,"y":0.0013,"c":120},{"x":461,"y":0.00145,"c":125},{"x":448,"y":8.9e-4,"c":115},{"x":490,"y":0.004,"c":125},{"x":543,"y":0.0068,"c":120},{"x":567,"y":0.0059,"c":115},{"x":531,"y":0.0076,"c":130},{"x":500,"y":0.0062,"c":255},{"x":520,"y":0.0058,"c":262},{"x":540,"y":0.0095,"c":268},{"x":560,"y":0.0095,"c":275},{"x":580,"y":0.0085,"c":280}
]},"mark":{"type":"circle","size":135,"opacity":1},"encoding":{"x":{"field":"x","type":"quantitative","scale":{"domain":[149,1038],"nice":false,"zero":false},"axis":{"values":[200,400,600,800,1000],"grid":false,"domainColor":"#222","tickColor":"#222","tickSize":6,"labelFont":"Liberation Serif","labelFontSize":19,"labelColor":"#222","title":"𝑚𝐻₂ (GeV)","titleFont":"DejaVu Sans","titleFontSize":26,"titleFontWeight":"normal","titleColor":"#000","titlePadding":6}},"y":{"field":"y","type":"quantitative","scale":{"type":"log","domain":[1.48e-7,1.76],"nice":false},"axis":{"values":[1,0.9,0.8,0.7,0.6,0.5,0.4,0.3,0.2,0.1,0.09,0.08,0.07,0.06,0.05,0.04,0.03,0.02,0.01,0.009,0.008,0.007,0.006,0.005,0.004,0.003,0.002,0.001,0.0009,0.0008,0.0007,0.0006,0.0005,0.0004,0.0003,0.0002,0.0001,0.00009,0.00008,0.00007,0.00006,0.00005,0.00004,0.00003,0.00002,0.00001,0.000009,0.000008,0.000007,0.000006,0.000005,0.000004,0.000003,0.000002,0.000001,9e-7,8e-7,7e-7,6e-7,5e-7,4e-7,3e-7,2e-7],"labelExpr":"datum.value==1?'10⁰':datum.value==0.1?'10⁻¹':datum.value==0.01?'10⁻²':datum.value==0.001?'10⁻³':datum.value==0.0001?'10⁻⁴':datum.value==0.00001?'10⁻⁵':datum.value==0.000001?'10⁻⁶':''","labelOverlap":false,"grid":false,"domainColor":"#222","tickColor":"#222","tickSize":{"condition":{"test":"indexof([1,0.1,0.01,0.001,0.0001,0.00001,0.000001],datum.value)>=0","value":6},"value":3},"labelFont":"Liberation Serif","labelFontSize":19,"labelColor":"#222","title":"Br(𝐻₂ → χ̃₁⁰χ̃₁⁰)","titleFont":"DejaVu Sans","titleFontSize":25,"titleFontWeight":"normal","titleColor":"#000","titlePadding":8}},"color":{"field":"c","type":"quantitative","scale":{"domain":[93,135.6,224.6,238,340.7,348.4,437.4,445.2,480],"range":["#000080","#0000ff","#00dbff","#14ffe2","#eeff08","#ffec00","#ff1300","#e80000","#800000"]},"legend":{"orient":"none","legendX":526,"legendY":0,"title":null,"gradientLength":460,"gradientThickness":24,"values":[100,150,200,250,300,350,400,450],"labelFont":"Liberation Serif","labelFontSize":19,"labelColor":"#222","labelOffset":8,"gradientStrokeColor":"#222","gradientStrokeWidth":1}}}}
